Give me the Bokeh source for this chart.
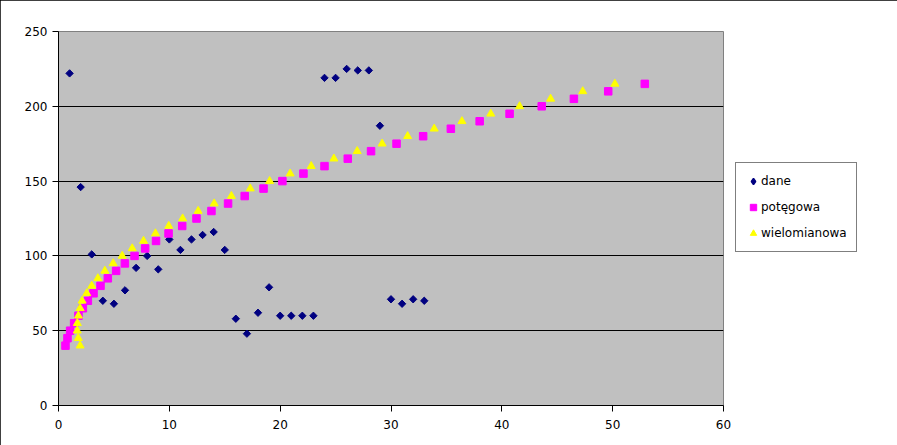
from bokeh.plotting import figure
from bokeh.models import Range1d, FixedTicker, Legend, LegendItem
from bokeh.embed import file_html
from bokeh.resources import INLINE
import math

# ---- data ----
dane_x = list(range(1, 34))
dane_y = [222, 146, 101, 70, 68, 77, 92, 100, 91, 111, 104, 111, 114, 116, 104,
          58, 48, 62, 79, 60, 60, 60, 60, 219, 219, 225, 224, 224, 187, 71, 68, 71, 70]

fit_y = [40, 45, 50, 55, 60, 65, 70, 75, 80, 85, 90, 95, 100, 105, 110, 115, 120,
         125, 130, 135, 140, 145, 150, 155, 160, 165, 170, 175, 180, 185, 190, 195,
         200, 205, 210, 215]
potegowa_x = [0.63, 0.81, 1.05, 1.41, 1.8, 2.2, 2.65, 3.16, 3.79, 4.45, 5.2, 5.99,
              6.86, 7.82, 8.8, 9.93, 11.16, 12.45, 13.8, 15.3, 16.8, 18.5, 20.2,
              22.1, 24.0, 26.1, 28.2, 30.5, 32.9, 35.4, 38.0, 40.7, 43.6, 46.5,
              49.6, 52.9]
wielomianowa_x = [1.95, 1.78, 1.69, 1.7, 1.8, 1.95, 2.13, 2.55, 3.0, 3.55, 4.18,
                  4.93, 5.75, 6.65, 7.67, 8.75, 9.95, 11.2, 12.6, 14.05, 15.6, 17.3,
                  19.05, 20.9, 22.8, 24.85, 26.95, 29.2, 31.5, 33.9, 36.4, 39.0,
                  41.6, 44.4, 47.3, 50.2]

x_ticks = [0, 10, 20, 30, 40, 50, 60]
y_ticks = [0, 50, 100, 150, 200, 250]
series_names = ["dane", "potęgowa", "wielomianowa"]

FONT = "DejaVu Sans"

p = figure(frame_width=665, frame_height=374, output_backend="svg",
           toolbar_location=None,
           x_range=Range1d(0, 60), y_range=Range1d(0, 250),
           min_border_left=58, min_border_top=31, min_border_right=174,
           min_border_bottom=40)
p.background_fill_color = "#C0C0C0"
p.border_fill_color = "white"
p.outline_line_color = "#808080"
p.outline_line_width = 1
p.styles = {"outline": "1px solid black", "outline-offset": "-1px"}

# grid
p.xgrid.visible = False
p.ygrid.ticker = FixedTicker(ticks=y_ticks)
p.ygrid.grid_line_color = "black"
p.ygrid.grid_line_width = 1

# axes
for ax, ticks in ((p.xaxis[0], x_ticks), (p.yaxis[0], y_ticks)):
    ax.ticker = FixedTicker(ticks=ticks)
    ax.axis_line_color = "black"
    ax.major_tick_line_color = "black"
    ax.major_tick_in = 0
    ax.minor_tick_line_color = None
    ax.major_label_text_font = FONT
    ax.major_label_text_font_size = "12px"
    ax.major_label_text_color = "black"
p.xaxis.major_tick_out = 6
p.xaxis.major_label_standoff = 8
p.yaxis.major_tick_out = 6
p.yaxis.major_label_standoff = 5

# series
r_dane = p.scatter(dane_x, dane_y, marker="square", angle=math.pi / 4, size=5.2,
                   fill_color="#000080", line_color="#000080")
r_pot = p.scatter(potegowa_x, fit_y, marker="square", size=7.5,
                  fill_color="#FF00FF", line_color="#FF00FF")
r_wiel = p.scatter(wielomianowa_x, fit_y, marker="triangle", size=8,
                   fill_color="#FFFF00", line_color="#FFFF00")
# legend glyph for "dane" (legend markers are drawn unrotated, so a diamond
# marker of zero on-plot size supplies the legend swatch)
r_dane_leg = p.scatter(dane_x, dane_y, marker="diamond", size=0,
                       fill_color="#000080", line_color="#000080",
                       line_width=1.5)

legend = Legend(items=[LegendItem(label=series_names[0], renderers=[r_dane_leg]),
                       LegendItem(label=series_names[1], renderers=[r_pot]),
                       LegendItem(label=series_names[2], renderers=[r_wiel])],
                location=(12, 153))
legend.border_line_color = "black"
legend.border_line_width = 1
legend.background_fill_color = "white"
legend.background_fill_alpha = 1
legend.label_text_font = FONT
legend.label_text_font_size = "12px"
legend.label_text_color = "black"
legend.glyph_width = 16
legend.glyph_height = 18
legend.label_height = 18
legend.label_standoff = 0
legend.spacing = 8
legend.padding = 9
legend.margin = 0
p.add_layout(legend, "right")

html = file_html(p, INLINE)
open("out.html", "w").write(html)
